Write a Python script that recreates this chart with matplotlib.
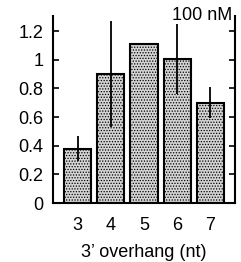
import matplotlib
matplotlib.use("Agg")
from matplotlib import pyplot as plt

plt.rcParams['font.family'] = ['Liberation Sans', 'DejaVu Sans']
plt.rcParams['hatch.color'] = '#888888'
plt.rcParams['hatch.linewidth'] = 0.6

overhang = [3, 4, 5, 6, 7]
activity = [0.38, 0.90, 1.11, 1.005, 0.70]
err = [0.09, 0.37, 0.01, 0.245, 0.11]
yticks = [0, 0.2, 0.4, 0.6, 0.8, 1.0, 1.2]
ylabels = ['0', '0.2', '0.4', '0.6', '0.8', '1', '1.2']

fig = plt.figure(figsize=(2.41, 2.62), dpi=100)
ax = fig.add_axes([0.22, 0.225, 0.755, 0.714])

ax.bar(overhang, activity, width=0.82, color='#d4d4d4', edgecolor='black',
       linewidth=1.5, hatch='......', zorder=2)
ax.errorbar(overhang, activity, yerr=err, fmt='none', ecolor='black',
            elinewidth=1.3, capsize=0, zorder=3)

ax.set_xlim(2.26, 7.74)
ax.set_ylim(0, 1.305)
ax.set_xticks(overhang)
ax.set_yticks(yticks)
ax.set_yticklabels(ylabels)
ax.tick_params(axis='y', direction='in', length=4, width=1.2, right=True,
               labelsize=13, pad=7)
ax.tick_params(axis='x', length=0, labelsize=13, pad=10)
ax.spines['top'].set_visible(False)
for s in ['left', 'right', 'bottom']:
    ax.spines[s].set_linewidth(1.5)

ax.set_xlabel("3\u2019 overhang (nt)", fontsize=13, labelpad=7)
ax.text(0.985, 1.0, '100 nM', transform=ax.transAxes, ha='right', va='center',
        fontsize=13)

fig.savefig('out.png', dpi=100)
